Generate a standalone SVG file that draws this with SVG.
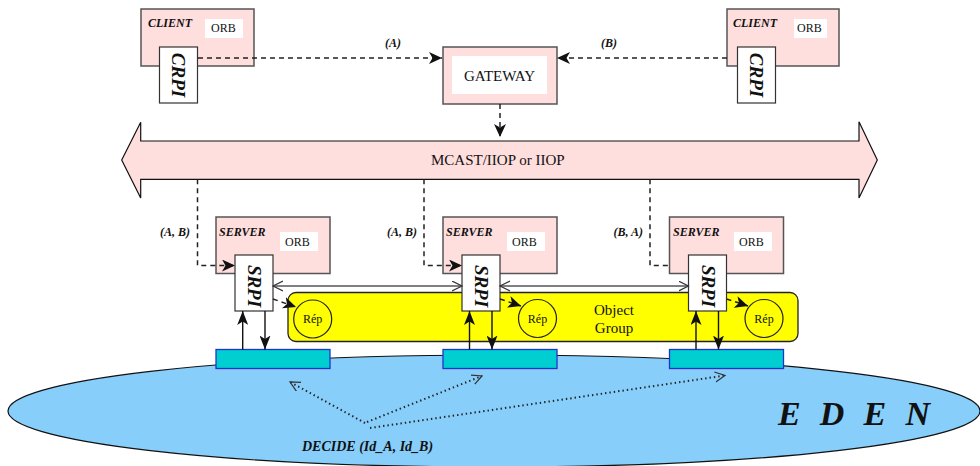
<svg xmlns="http://www.w3.org/2000/svg" width="980" height="466" viewBox="0 0 980 466">
<style>
.pink{fill:#FFDEDE;stroke:#555;stroke-width:1.5}
.white{fill:#fff;stroke:none}
.box{fill:#fff;stroke:#333;stroke-width:1.2}
.bi{font-family:"Liberation Serif",serif;font-weight:bold;font-style:italic;fill:#111}
.rg{font-family:"Liberation Serif",serif;fill:#111}
.dash{fill:none;stroke:#222;stroke-width:1.5;stroke-dasharray:5 4}
.solid{fill:none;stroke:#111;stroke-width:1.4}
.dbl{fill:none;stroke:#555;stroke-width:1.6}
.dot{fill:none;stroke:#222;stroke-width:2;stroke-dasharray:1.4 3}
.teal{fill:#00CED1;stroke:#2233CC;stroke-width:1.3}
</style>
<defs>
<marker id="barb" markerUnits="userSpaceOnUse" markerWidth="14" markerHeight="12" refX="13" refY="6" orient="auto">
<path d="M0,0 L13,6 L0,12 L3.5,6 z" fill="#111"/>
</marker>
<marker id="solidhead" markerUnits="userSpaceOnUse" markerWidth="15" markerHeight="11" refX="14" refY="5.5" orient="auto">
<path d="M0,0 L14,5.5 L0,11 L3.5,5.5 z" fill="#111"/>
</marker>
<marker id="open" markerUnits="userSpaceOnUse" markerWidth="12" markerHeight="12" refX="10" refY="5.5" orient="auto-start-reverse">
<path d="M0,0.5 L10,5.5 L0,10.5" fill="none" stroke="#333" stroke-width="1.2"/>
</marker>
</defs>

<g id="eden">
<ellipse cx="494" cy="411" rx="486" ry="56" fill="#87CEFA" stroke="#111" stroke-width="1.2"/>
<text class="bi" x="778" y="425" font-size="34" textLength="152" lengthAdjust="spacing">E D E N</text>
<text class="bi" x="302" y="451" font-size="14">DECIDE (Id_A, Id_B)</text>
</g>

<g id="mcast">
<polygon points="121.7,160 140.7,122.3 140.7,141 859,141 859,121.7 877.3,160 859,198 859,179.3 140.7,179.3 140.7,198" fill="#FFDEDE" stroke="#111" stroke-width="1.2"/>
<text class="rg" x="431" y="165" font-size="15">MCAST/IIOP or IIOP</text>
</g>

<g id="client1">
<rect class="pink" x="141" y="9" width="113" height="57"/>
<text class="bi" x="148" y="27" font-size="12">CLIENT</text>
<rect class="white" x="205" y="19" width="38" height="19"/>
<text class="rg" x="211" y="32" font-size="12">ORB</text>
</g>
<g id="crpi1">
<rect class="box" x="159.5" y="47" width="38" height="56"/>
<text class="bi" font-size="19" text-anchor="middle" transform="translate(172,75) rotate(90)">CRPI</text>
</g>

<g id="client2">
<rect class="pink" x="727" y="9" width="112" height="57"/>
<text class="bi" x="733" y="27" font-size="12">CLIENT</text>
<rect class="white" x="794" y="19" width="33" height="19"/>
<text class="rg" x="797" y="32" font-size="12">ORB</text>
</g>
<g id="crpi2">
<rect class="box" x="737.5" y="47" width="38" height="56"/>
<text class="bi" font-size="19" text-anchor="middle" transform="translate(750,75) rotate(90)">CRPI</text>
</g>

<g id="gateway">
<rect class="pink" x="443" y="47" width="114" height="57"/>
<rect class="white" x="452" y="56" width="95" height="38"/>
<text class="rg" x="499.5" y="81" font-size="15" text-anchor="middle">GATEWAY</text>
</g>

<g id="objectgroup">
<rect x="288" y="292.5" width="510" height="49" rx="8" fill="#FFFF00" stroke="#222" stroke-width="1.3"/>
<text class="rg" x="614" y="315" font-size="15" text-anchor="middle">Object</text>
<text class="rg" x="614" y="333" font-size="15" text-anchor="middle">Group</text>
</g>

<g id="server1">
<rect class="pink" x="216" y="217" width="114" height="56.5"/>
<text class="bi" x="219" y="236" font-size="12">SERVER</text>
<rect class="white" x="280" y="232" width="38" height="19"/>
<text class="rg" x="285" y="245.5" font-size="12">ORB</text>
</g>
<g id="srpi1">
<rect class="box" x="235" y="255" width="38" height="56"/>
<text class="bi" font-size="19" text-anchor="middle" transform="translate(248,286) rotate(90)">SRPI</text>
</g>
<g id="rep1">
<circle cx="312.7" cy="319" r="19" fill="none" stroke="#222" stroke-width="1.2"/>
<text class="rg" x="312.7" y="323" font-size="12" text-anchor="middle">Rép</text>
</g>
<g id="bus1">
<rect class="teal" x="216" y="349.5" width="114" height="19"/>
</g>

<g id="server2">
<rect class="pink" x="443" y="217" width="114" height="56.5"/>
<text class="bi" x="446" y="236" font-size="12">SERVER</text>
<rect class="white" x="507" y="232" width="38" height="19"/>
<text class="rg" x="512" y="245.5" font-size="12">ORB</text>
</g>
<g id="srpi2">
<rect class="box" x="462" y="255" width="38" height="56"/>
<text class="bi" font-size="19" text-anchor="middle" transform="translate(475,286) rotate(90)">SRPI</text>
</g>
<g id="rep2">
<circle cx="537.5" cy="318.5" r="19" fill="none" stroke="#222" stroke-width="1.2"/>
<text class="rg" x="537.5" y="322.5" font-size="12" text-anchor="middle">Rép</text>
</g>
<g id="bus2">
<rect class="teal" x="443" y="349.5" width="114" height="19"/>
</g>

<g id="server3">
<rect class="pink" x="669.5" y="217" width="114" height="56.5"/>
<text class="bi" x="673" y="236" font-size="12">SERVER</text>
<rect class="white" x="734" y="232" width="38" height="19"/>
<text class="rg" x="739" y="245.5" font-size="12">ORB</text>
</g>
<g id="srpi3">
<rect class="box" x="688.5" y="255" width="38" height="56"/>
<text class="bi" font-size="19" text-anchor="middle" transform="translate(701.5,286) rotate(90)">SRPI</text>
</g>
<g id="rep3">
<circle cx="764" cy="318.5" r="19" fill="none" stroke="#222" stroke-width="1.2"/>
<text class="rg" x="764" y="322.5" font-size="12" text-anchor="middle">Rép</text>
</g>
<g id="bus3">
<rect class="teal" x="669.5" y="349.5" width="114" height="19"/>
</g>

<g id="connectors">
<path class="dash" d="M198,58 H442" marker-end="url(#barb)"/>
<text class="bi" x="393" y="47" font-size="12" text-anchor="middle">(A)</text>
<path class="dash" d="M727,58 H557" marker-end="url(#barb)"/>
<text class="bi" x="609" y="47" font-size="12" text-anchor="middle">(B)</text>
<path class="dash" d="M500,104 V137" marker-end="url(#barb)"/>

<path class="dash" d="M197.5,179.3 V265.5 H235" marker-end="url(#barb)"/>
<text class="bi" x="190" y="236" font-size="12" text-anchor="end">(A, B)</text>
<path class="dash" d="M424,179.3 V265.5 H462" marker-end="url(#barb)"/>
<text class="bi" x="417" y="236" font-size="12" text-anchor="end">(A, B)</text>
<path class="dash" d="M650,179.3 V265.5 H669.5"/>
<text class="bi" x="643" y="236" font-size="12" text-anchor="end">(B, A)</text>

<path class="dbl" d="M273,286 H462" marker-start="url(#open)" marker-end="url(#open)"/>
<path class="dbl" d="M500,286 H688.5" marker-start="url(#open)" marker-end="url(#open)"/>

<path class="dash" d="M273,299 L296,307" marker-end="url(#barb)"/>
<path class="dash" d="M500,299 L521,306" marker-end="url(#barb)"/>
<path class="dash" d="M726.5,299 L748,306" marker-end="url(#barb)"/>

<path class="solid" d="M242.7,349.5 V311" marker-end="url(#solidhead)"/>
<path class="solid" d="M265,311 V349.5" marker-end="url(#solidhead)"/>
<path class="solid" d="M469.5,349.5 V311" marker-end="url(#solidhead)"/>
<path class="solid" d="M492,311 V349.5" marker-end="url(#solidhead)"/>
<path class="solid" d="M696,349.5 V311" marker-end="url(#solidhead)"/>
<path class="solid" d="M718.5,311 V349.5" marker-end="url(#solidhead)"/>

<path class="dot" d="M365,423 L290,382" marker-end="url(#open)"/>
<path class="dot" d="M367,422 L482,376" marker-end="url(#open)"/>
<path class="dot" d="M370,428 L725,375.5" marker-end="url(#open)"/>
</g>
</svg>
